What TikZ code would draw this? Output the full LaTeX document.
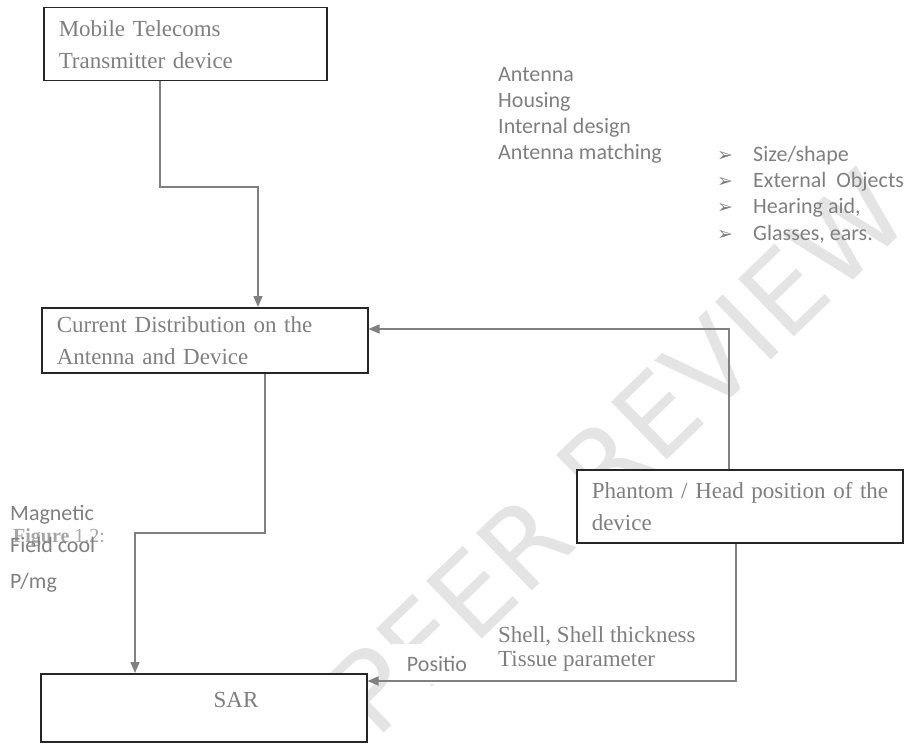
\documentclass[tikz,border=0pt]{standalone}
\usepackage{fontspec}
\setmainfont{Liberation Serif}
\setsansfont{Carlito}
\newfontfamily\symfont{DejaVu Sans}
\usetikzlibrary{arrows.meta, positioning}
\definecolor{txtgray}{HTML}{7F7F7F}
\definecolor{linegray}{HTML}{808080}
\definecolor{markgray}{HTML}{E4E4E4}

\begin{document}
\begin{tikzpicture}[x=1pt, y=-1pt, >={Triangle[length=11pt, width=9pt]}]
        \tikzstyle{block} = [draw=black!85, line width=1.5pt, fill=white, shape=rectangle,
        anchor=north west, align=left, inner xsep=15pt, inner ysep=0pt, text=txtgray,
        font=\fontsize{23}{32}\selectfont]
        \tikzstyle{note} = [anchor=base west, align=left, inner sep=0pt, text=txtgray,
        font=\sffamily\fontsize{22}{26}\selectfont]
        \tikzstyle{serifnote} = [note, font=\fontsize{23}{24}\selectfont]
        \useasboundingbox (0,0) rectangle (915,746);
        %Watermark
        \node[rotate=44, text=markgray, font=\symfont\fontsize{110}{110}\selectfont] (mark) at (618,452) {PEER REVIEW};
        %Creating Blocks
        \node [block, minimum width=283pt, minimum height=73pt, text width=253pt] (mobile) at (43,7) {\mbox{Mobile Telecoms}\\\mbox{Transmitter device}};
        \node [block, minimum width=326pt, minimum height=65pt, text width=296pt] (current) at (41,307) {\mbox{Current Distribution on the}\\\mbox{Antenna and Device}};
        \node [block, minimum width=326pt, minimum height=73pt, text width=296pt] (phantom) at (576,469) {\mbox{Phantom / Head position of the}\\\mbox{device}};
        \node [block, minimum width=326pt, minimum height=68pt] (sar) at (40,673) {};
        \node [text=txtgray, font=\fontsize{23}{23}\selectfont] (sarlabel) at (236,700) {SAR};
        %Texts round the blocks (base = last line)
        \node [note] (design) at (498,160) {Antenna\\Housing\\Internal design\\Antenna matching};
        \node [note] (objects) at (717,240) {\makebox[36pt][l]{\symfont\fontsize{19}{26}\selectfont ➢}Size/shape\\
        \makebox[36pt][l]{\symfont\fontsize{19}{26}\selectfont ➢}External\ \ Objects\\
        \makebox[36pt][l]{\symfont\fontsize{19}{26}\selectfont ➢}Hearing aid,\\
        \makebox[36pt][l]{\symfont\fontsize{19}{26}\selectfont ➢}Glasses, ears.};
        \node [note, text=txtgray!70, font=\fontsize{20}{24}\selectfont] (figure) at (13,542) {\textbf{Figure} 1.2:};
        \node [note, font=\sffamily\fontsize{22}{32}\selectfont] (field) at (10,588) {Magnetic\\Field cool\\[4pt]P/mg};
        \node [serifnote] (shell) at (498,666) {Shell, Shell thickness\\Tissue parameter};
        \node [note, anchor=center, fill=white, minimum width=91pt, minimum height=40pt] (positio) at (437,664) {Positio};
        %Bends of the connections
        \coordinate (b1) at (160,187);
        \coordinate (b2) at (258,187);
        \coordinate (b3) at (729,329);
        \coordinate (b4) at (265,533);
        \coordinate (b5) at (135,533);
        \coordinate (b6) at (736,681);
        %Connecting Blocks
        \begin{scope}[draw=linegray, line width=1.5pt]
            \draw[->] (mobile.south -| b1) -- (b1) -- (b2) -- (b2 |- current.north);
            \draw[->] (phantom.north -| b3) -- (b3) -- (current.east |- b3);
            \draw[->] (current.south -| b4) -- (b4) -- (b5) -- (b5 |- sar.north);
            \draw[->] (phantom.south -| b6) -- (b6) -- (sar.east |- b6);
        \end{scope}
    \end{tikzpicture}
\end{document}
